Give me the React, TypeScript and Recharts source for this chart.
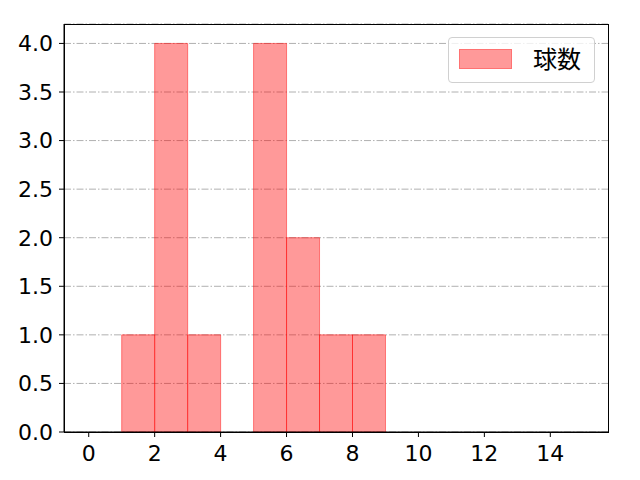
import React from "react";
import { BarChart, Bar, XAxis, YAxis, CartesianGrid } from "recharts";

// histogram bins (width 1), value = count in bin
const binCenters = [1.5, 2.5, 3.5, 4.5, 5.5, 6.5, 7.5, 8.5];
const counts = [1, 4, 1, 0, 4, 2, 1, 1];
const xTicks = [0, 2, 4, 6, 8, 10, 12, 14];
const yTicks = [0, 0.5, 1, 1.5, 2, 2.5, 3, 3.5, 4];
const seriesName = "球数";

const data = binCenters.map((x, i) => ({ x, count: counts[i] }));

const TICK_FONT = "'DejaVu Sans', sans-serif";
const CJK_FONT = "'Noto Sans CJK JP', 'Noto Sans', sans-serif";

function LegendBox() {
  return (
    <div
      style={{
        position: "absolute",
        left: 448,
        top: 37,
        width: 147,
        height: 46,
        boxSizing: "border-box",
        border: "1px solid #d0d0d0",
        borderRadius: 4,
        background: "rgba(255,255,255,0.8)",
        fontFamily: CJK_FONT,
      }}
    >
      <div
        style={{
          position: "absolute",
          left: 10,
          top: 11,
          width: 53,
          height: 20,
          background: "rgba(255,0,0,0.4)",
          border: "1px solid rgba(255,0,0,0.25)",
          boxSizing: "border-box",
        }}
      />
      <div style={{ position: "absolute", left: 84, top: 5, fontSize: 24, lineHeight: "30px", color: "#000", whiteSpace: "nowrap" }}>
        {seriesName}
      </div>
    </div>
  );
}

export default function App() {
  return (
    <div style={{ position: "absolute", left: 0, top: 0, width: 640, height: 480, background: "#fff" }}>
      <BarChart
        width={640}
        height={480}
        data={data}
        margin={{ top: 24, right: 32, bottom: 0, left: 0 }}
        barCategoryGap={0}
        barGap={0}
      >
        <CartesianGrid horizontal vertical={false} stroke="#b0b0b0" strokeDasharray="7 2 1.5 2" />
        <XAxis
          dataKey="x"
          type="number"
          domain={[-0.75, 15.75]}
          ticks={xTicks}
          height={48}
          stroke="#000"
          tickLine={{ stroke: "#000" }}
          tickSize={5}
          tickMargin={8}
          tick={{ fill: "#000", fontSize: 22, fontFamily: TICK_FONT }}
          allowDataOverflow
        />
        <YAxis
          type="number"
          domain={[0, 4.2]}
          ticks={yTicks}
          width={64}
          stroke="#000"
          tickSize={5}
          tickMargin={6}
          tickFormatter={(v: number) => v.toFixed(1)}
          tick={{ fill: "#000", fontSize: 22, fontFamily: TICK_FONT }}
          allowDataOverflow
        />
        <Bar
          dataKey="count"
          name={seriesName}
          fill="#ff0000"
          fillOpacity={0.4}
          stroke="#ff0000"
          strokeOpacity={0.45}
          strokeWidth={1}
          isAnimationActive={false}
        />
      </BarChart>
      <div style={{ position: "absolute", left: 64, top: 24, width: 545, height: 409, border: "1px solid #000", boxSizing: "border-box", pointerEvents: "none" }} />
      <LegendBox />
    </div>
  );
}
